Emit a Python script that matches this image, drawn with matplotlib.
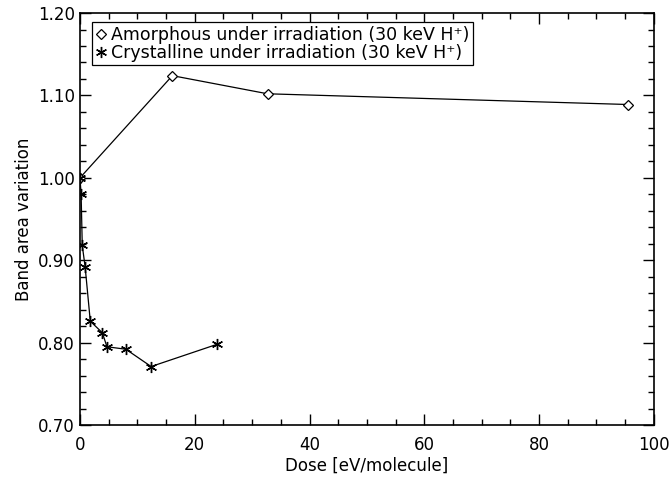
import matplotlib
matplotlib.use("Agg")
import matplotlib.pyplot as plt
from matplotlib.ticker import MultipleLocator, FormatStrFormatter

# amorphous sample
dose_amorph = [0.0, 16.1, 32.7, 95.5]
area_amorph = [1.000, 1.124, 1.102, 1.089]

# crystalline sample
dose_cryst = [0.0, 0.2, 0.4, 0.9, 1.8, 3.9, 4.7, 8.0, 12.4, 23.9]
area_cryst = [1.000, 0.980, 0.918, 0.892, 0.826, 0.812, 0.795, 0.792, 0.771, 0.798]

labels = ["Amorphous under irradiation (30 keV H\u207a)",
          "Crystalline under irradiation (30 keV H\u207a)"]

plt.rcParams['font.family'] = ['DejaVu Sans']
plt.rcParams['font.size'] = 12

fig = plt.figure(figsize=(6.72, 4.83), dpi=100)
ax = fig.add_axes([0.119, 0.12, 0.854, 0.853])

ax.plot(dose_amorph, area_amorph, color='black', lw=0.9, marker='D', ms=5,
        mfc='white', mec='black', mew=0.9, label=labels[0])
ax.plot(dose_cryst, area_cryst, color='black', lw=0.9, marker=(6, 2, 0), ms=8,
        mec='black', mew=1.0, label=labels[1])

ax.set_xlim(0, 100)
ax.set_ylim(0.70, 1.20)
ax.xaxis.set_major_locator(MultipleLocator(20))
ax.xaxis.set_minor_locator(MultipleLocator(5))
ax.yaxis.set_major_locator(MultipleLocator(0.10))
ax.yaxis.set_minor_locator(MultipleLocator(0.02))
ax.yaxis.set_major_formatter(FormatStrFormatter('%.2f'))
ax.tick_params(which='both', direction='in', top=True, right=True, width=1)
ax.tick_params(which='major', length=8)
ax.tick_params(which='minor', length=4)
ax.tick_params(axis='x', pad=8)
for s in ax.spines.values():
    s.set_linewidth(1.2)

ax.set_xlabel("Dose [eV/molecule]", labelpad=2)
ax.set_ylabel("Band area variation")

leg = ax.legend(loc='upper left', bbox_to_anchor=(0.021, 0.978), borderaxespad=0,
                fontsize=12.5, handlelength=0.6, handletextpad=0.3, borderpad=0.2,
                labelspacing=0.0, fancybox=False, edgecolor='black', framealpha=1)
leg.get_frame().set_linewidth(0.9)
for h in leg.legend_handles:
    h.set_linestyle('none')

fig.savefig("out.png", dpi=100)
